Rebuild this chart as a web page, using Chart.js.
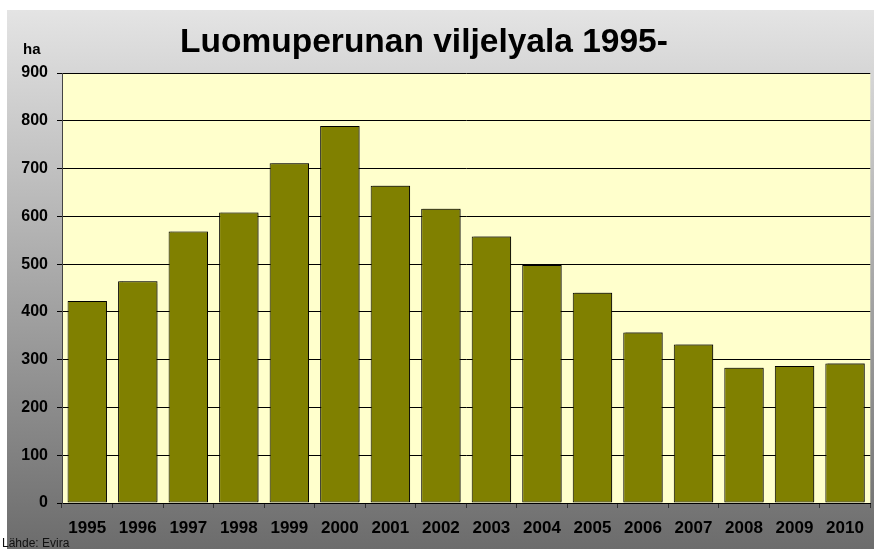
<!DOCTYPE html>
<html>
<head>
<meta charset="utf-8">
<script src="https://cdn.jsdelivr.net/npm/chart.js@4"></script>
<style>
  html, body { margin: 0; padding: 0; background: #fff; }
  canvas { display: block; }
</style>
</head>
<body>
<canvas id="myChart" width="874" height="549"></canvas>
<script>
// data
var years = ["1995", "1996", "1997", "1998", "1999", "2000", "2001", "2002",
    "2003", "2004", "2005", "2006", "2007", "2008", "2009", "2010"];
var hectares = [423, 464, 568, 608, 711, 789, 664, 616, 558, 498, 440, 357, 332, 283, 287, 292];
var yTicks = [0, 100, 200, 300, 400, 500, 600, 700, 800, 900];

var titleText = "Luomuperunan viljelyala 1995-";
var unitText = "ha";
var sourceText = "Lähde: Evira";

var FONT = "'Liberation Sans', Arial, sans-serif";

// grey gradient panel + yellow plot area
var backdrop = {
    id: "backdrop",
    beforeDraw: function (chart) {
        var ctx = chart.ctx;
        var a = chart.chartArea;
        ctx.save();
        var g = ctx.createLinearGradient(0, 10, 0, 549);
        g.addColorStop(0, "#e4e4e4");
        g.addColorStop(1, "#6c6c6c");
        ctx.fillStyle = g;
        ctx.fillRect(7, 10, 874 - 7, 549 - 10);
        ctx.fillStyle = "#ffffcc";
        ctx.fillRect(a.left, a.top, a.right - a.left, a.bottom - a.top);
        ctx.restore();
    },
    afterDraw: function (chart) {
        var ctx = chart.ctx;
        ctx.save();
        ctx.fillStyle = "#000";
        ctx.textAlign = "center";
        ctx.textBaseline = "alphabetic";
        ctx.font = "bold 33.5px " + FONT;
        ctx.fillText(titleText, 424, 52);
        ctx.textAlign = "left";
        ctx.font = "bold 15px " + FONT;
        ctx.fillText(unitText, 23, 54);
        ctx.font = "12px " + FONT;
        ctx.fillStyle = "#111";
        ctx.fillText(sourceText, 2, 547);
        ctx.restore();
    }
};

// soft shadow behind the bars
var barShadow = {
    id: "barShadow",
    beforeDatasetsDraw: function (chart) {
        var ctx = chart.ctx;
        ctx.save();
        ctx.shadowColor = "rgba(0,0,0,0.35)";
        ctx.shadowOffsetX = 2;
        ctx.shadowOffsetY = -1;
        ctx.shadowBlur = 1;
    },
    afterDatasetsDraw: function (chart) {
        chart.ctx.restore();
    }
};

var ctx = document.getElementById("myChart").getContext("2d");
var myChart = new Chart(ctx, {
    type: "bar",
    data: {
        labels: years,
        datasets: [
            {
                label: "ha",
                data: hectares,
                backgroundColor: "#808000",
                borderColor: "#000000",
                borderWidth: 1,
                borderSkipped: false,
                barPercentage: 0.78,
                categoryPercentage: 1.0,
            },
        ],
    },
    options: {
        responsive: false,
        animation: false,
        devicePixelRatio: 1,
        layout: { padding: { left: 0, right: 2, top: 73, bottom: 0 } },
        plugins: {
            legend: { display: false },
            tooltip: { enabled: false },
        },
        scales: {
            x: {
                offset: true,
                afterFit: function (s) { s.height = 46; },
                grid: {
                    offset: true,
                    drawOnChartArea: false,
                    drawTicks: true,
                    tickLength: 5,
                    color: "#333333",
                },
                border: { color: "#000000", width: 1 },
                ticks: {
                    color: "#000000",
                    padding: 10,
                    maxRotation: 0,
                    font: { family: FONT, size: 17, weight: "bold" },
                },
            },
            y: {
                min: 0,
                max: 900,
                afterFit: function (s) { s.width = 62; },
                afterBuildTicks: function (s) {
                    s.ticks = yTicks.map(function (v) { return { value: v }; });
                },
                grid: {
                    color: "#000000",
                    lineWidth: 1,
                    tickLength: 5,
                },
                border: { color: "#444444", width: 1 },
                ticks: {
                    color: "#000000",
                    padding: 9,
                    font: { family: FONT, size: 16, weight: "bold" },
                },
            },
        },
    },
    plugins: [backdrop, barShadow],
});
</script>
</body>
</html>
